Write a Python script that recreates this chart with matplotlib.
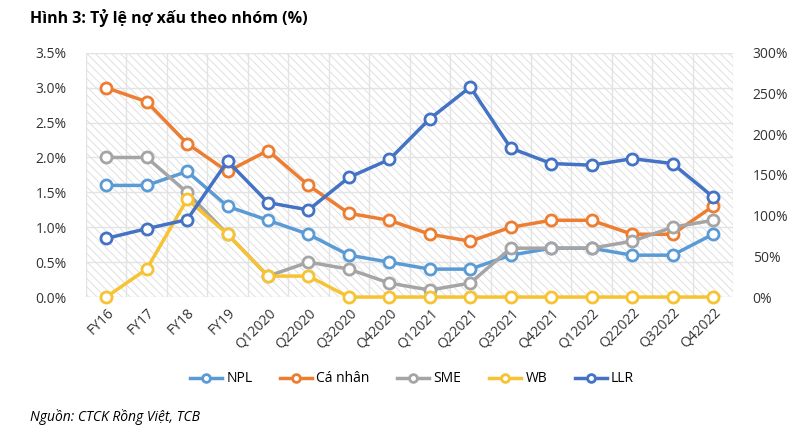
import numpy as np
import matplotlib.pyplot as plt
from matplotlib.patches import Rectangle
from matplotlib.ticker import FuncFormatter

plt.rcParams['font.family'] = ['Open Sans', 'DejaVu Sans']
plt.rcParams['hatch.linewidth'] = 0.6

# dữ liệu
labels = ['FY16', 'FY17', 'FY18', 'FY19', 'Q12020', 'Q22020', 'Q32020', 'Q42020',
          'Q12021', 'Q22021', 'Q32021', 'Q42021', 'Q12022', 'Q22022', 'Q32022', 'Q42022']
npl = [1.6, 1.6, 1.8, 1.3, 1.1, 0.9, 0.6, 0.5, 0.4, 0.4, 0.6, 0.7, 0.7, 0.6, 0.6, 0.9]
ca_nhan = [3.0, 2.8, 2.2, 1.8, 2.1, 1.6, 1.2, 1.1, 0.9, 0.8, 1.0, 1.1, 1.1, 0.9, 0.9, 1.3]
sme = [2.0, 2.0, 1.5, 0.9, 0.3, 0.5, 0.4, 0.2, 0.1, 0.2, 0.7, 0.7, 0.7, 0.8, 1.0, 1.1]
wb = [0.0, 0.4, 1.4, 0.9, 0.3, 0.3, 0.0, 0.0, 0.0, 0.0, 0.0, 0.0, 0.0, 0.0, 0.0, 0.0]
llr = [72, 84, 95, 167, 116, 107, 147, 169, 219, 258, 183, 164, 162, 170, 164, 123]

colors = {'NPL': '#5B9BD5', 'Cá nhân': '#ED7D31', 'SME': '#A5A5A5',
          'WB': '#F7C332', 'LLR': '#4472C4'}

fig = plt.figure(figsize=(8, 4.33), dpi=100)
ax = fig.add_axes([0.1075, 0.314, 0.809, 0.564])
ax2 = ax.twinx()

x = np.arange(len(labels))
mk = dict(marker='o', markersize=8, markerfacecolor='white', markeredgewidth=2, linewidth=2.5)

# nền gạch chéo
ax.add_patch(Rectangle((0, 0), 1, 1, transform=ax.transAxes, facecolor='white',
                       edgecolor='#dcdcdc', hatch='\\\\\\\\', linewidth=0, zorder=0))

lines = []
for name, vals in [('NPL', npl), ('Cá nhân', ca_nhan), ('SME', sme), ('WB', wb)]:
    l, = ax.plot(x, vals, color=colors[name], label=name, zorder=3, clip_on=False, **mk)
    lines.append(l)
l, = ax2.plot(x, llr, color=colors['LLR'], label='LLR', zorder=3, clip_on=False, **mk)
lines.append(l)

ax.set_xlim(-0.5, len(labels) - 0.5)
ax.set_ylim(0, 3.5)
ax.set_yticks(np.arange(0, 3.51, 0.5))
ax.yaxis.set_major_formatter(FuncFormatter(lambda v, p: f'{v:.1f}%'))
ax2.set_ylim(0, 300)
ax2.set_yticks(np.arange(0, 301, 50))
ax2.yaxis.set_major_formatter(FuncFormatter(lambda v, p: f'{v:.0f}%'))

ax.set_xticks(x)
ax.set_xticklabels(labels, rotation=45, ha='right', rotation_mode='anchor')
ax.set_xticks(np.arange(-0.5, len(labels), 1), minor=True)
ax.grid(True, axis='y', color='#e3e3e3', linewidth=1, zorder=1)
ax.grid(True, axis='x', which='minor', color='#e3e3e3', linewidth=1, zorder=1)
ax.set_axisbelow(True)

for a in (ax, ax2):
    for s in a.spines.values():
        s.set_visible(False)
    a.tick_params(length=0, labelsize=10, colors='#333333')
ax.tick_params(axis='x', which='both', length=0, pad=6)
ax.tick_params(axis='y', pad=14)
ax2.tick_params(axis='y', pad=14)

fig.text(0.037, 0.958, 'Hình 3: Tỷ lệ nợ xấu theo nhóm (%)', fontsize=11.5,
         fontweight='bold', va='center', ha='left')
fig.legend(handles=lines, loc='center', bbox_to_anchor=(0.515, 0.125), ncol=5,
           frameon=False, fontsize=10, handlelength=2.3, columnspacing=2.0,
           handletextpad=0.3, markerscale=0.7)
fig.text(0.037, 0.037, 'Nguồn: CTCK Rồng Việt, TCB', fontsize=10, style='italic',
         va='center', ha='left')

fig.savefig('out.png', dpi=100)
